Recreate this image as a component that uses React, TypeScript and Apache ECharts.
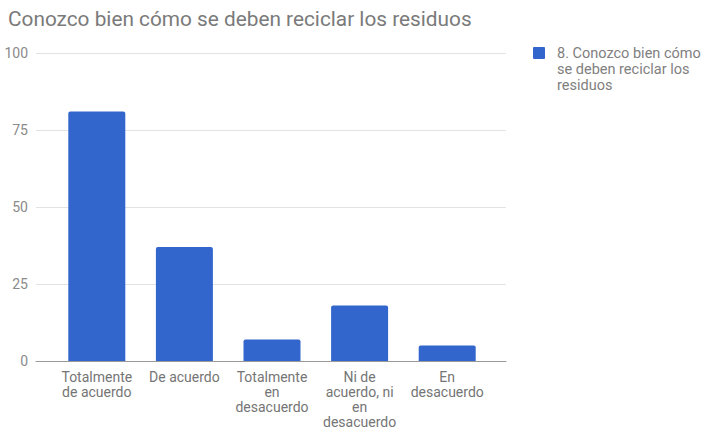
import React, { useEffect, useRef } from "react";
import * as echarts from "echarts";

const titleText = "Conozco bien cómo se deben reciclar los residuos";
const seriesName = "8. Conozco bien cómo se deben reciclar los residuos";
const legendLines = ["8. Conozco bien cómo", "se deben reciclar los", "residuos"];
const categories = [
  "Totalmente\nde acuerdo",
  "De acuerdo",
  "Totalmente\nen\ndesacuerdo",
  "Ni de\nacuerdo, ni\nen\ndesacuerdo",
  "En\ndesacuerdo",
];
const values = [81, 37, 7, 18, 5];
const yMin = 0;
const yMax = 100;
const yInterval = 25;

const FONT = "Roboto, 'Noto Sans', sans-serif";
const BLUE = "#3366cc";
const TEXT = "#757575";

export default function App() {
  const ref = useRef<HTMLDivElement>(null);
  useEffect(() => {
    if (!ref.current) return;
    const chart = echarts.init(ref.current, undefined, { renderer: "svg" });
    chart.setOption({
      animation: false,
      backgroundColor: "#ffffff",
      textStyle: { fontFamily: FONT },
      title: {
        text: titleText,
        left: 3,
        top: 3,
        textStyle: { fontSize: 20.8, fontWeight: "normal", color: "#7a7a7a", fontFamily: FONT },
      },
      grid: [
        { left: 36, right: 205, top: 53, height: 308 },
        { left: 53, right: 220, top: 53, height: 308 },
      ],
      xAxis: [
        {
          gridIndex: 0,
          type: "value",
          min: 0,
          max: 1,
          axisLine: { show: true, onZero: false, lineStyle: { color: "#9a9a9a", width: 1 } },
          axisTick: { show: false },
          axisLabel: { show: false },
          splitLine: { show: false },
        },
        {
          gridIndex: 1,
          type: "category",
          data: categories,
          axisLine: { show: false },
          axisTick: { show: false },
          axisLabel: {
            interval: 0,
            margin: 8,
            fontSize: 14,
            lineHeight: 15,
            color: TEXT,
            fontFamily: FONT,
            align: "center",
          },
        },
      ],
      yAxis: [
        {
          gridIndex: 0,
          type: "value",
          min: yMin,
          max: yMax,
          interval: yInterval,
          axisLine: { show: false },
          axisTick: { show: false },
          axisLabel: { margin: 8, fontSize: 14, color: "#8a8a8a", fontFamily: FONT },
          splitLine: { lineStyle: { color: "#e3e3e3", width: 1 } },
        },
        {
          gridIndex: 1,
          type: "value",
          min: yMin,
          max: yMax,
          show: false,
          splitLine: { show: false },
        },
      ],
      series: [
        {
          name: seriesName,
          type: "bar",
          xAxisIndex: 1,
          yAxisIndex: 1,
          data: values,
          barWidth: 57,
          itemStyle: { color: BLUE, borderRadius: [2, 2, 0, 0] },
        },
      ],
      graphic: [
        {
          type: "rect",
          left: 533,
          top: 47,
          shape: { width: 12, height: 12, r: 1 },
          style: { fill: BLUE },
        },
        {
          type: "text",
          left: 557,
          top: 45,
          style: {
            text: legendLines.join("\n"),
            font: `14.5px ${FONT}`,
            lineHeight: 16,
            fill: "#808080",
          },
        },
      ],
    });
    return () => chart.dispose();
  }, []);
  return (
    <div
      ref={ref}
      style={{ position: "fixed", left: 0, top: 0, width: 711, height: 430 }}
    />
  );
}
